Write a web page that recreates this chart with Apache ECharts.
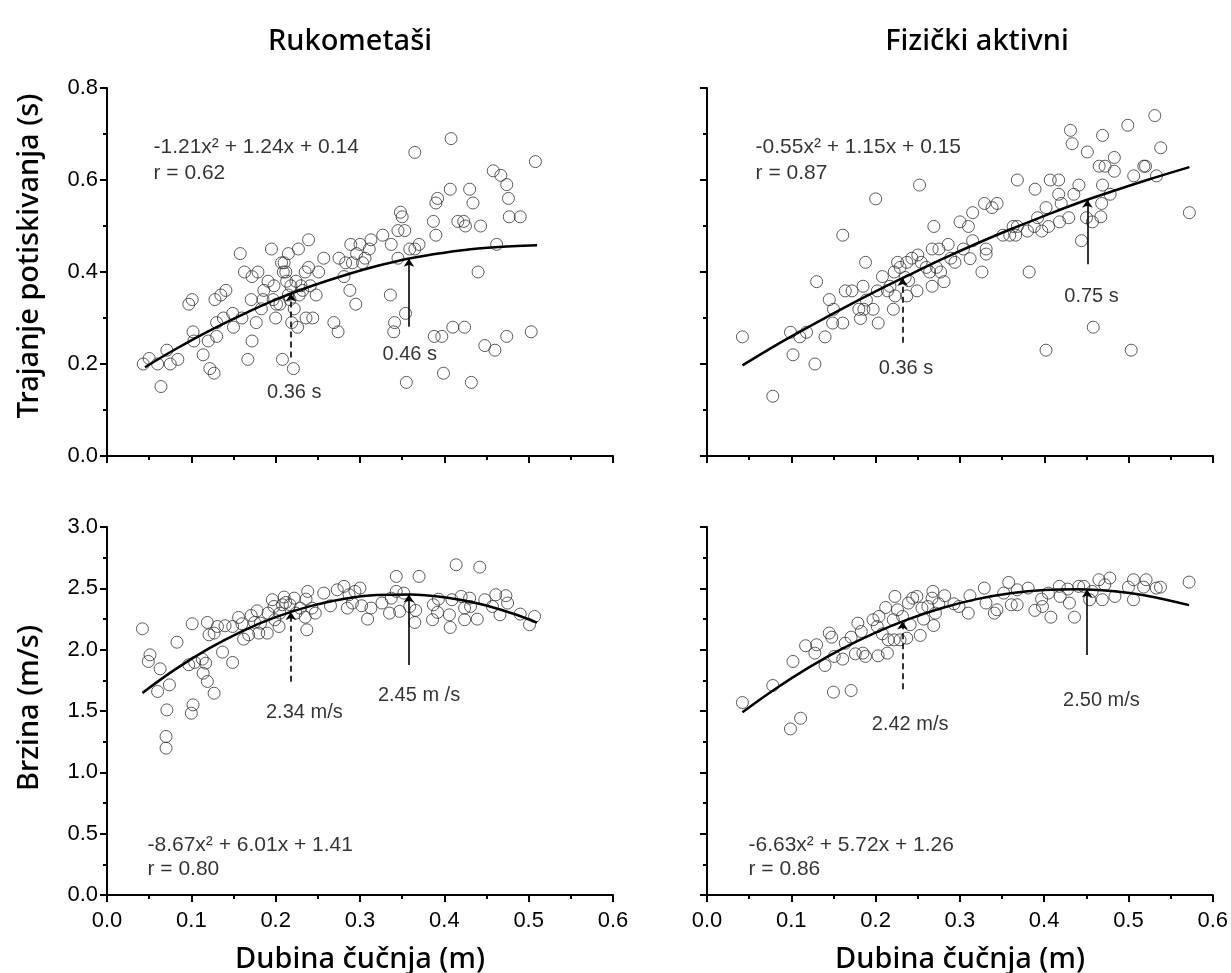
<!DOCTYPE html>
<html>
<head>
<meta charset="utf-8">
<title>Dubina čučnja</title>
<script src="https://cdn.jsdelivr.net/npm/echarts@6/dist/echarts.min.js"></script>
<style>
  html, body { margin: 0; padding: 0; background: #fff; }
  #chart { width: 1231px; height: 973px; }
</style>
</head>
<body>
<div id="chart"></div>
<script>
// ---- tick labels ----
const depthTicks = ['0.0', '0.1', '0.2', '0.3', '0.4', '0.5', '0.6'];
const timeTicks = ['0.0', '0.2', '0.4', '0.6', '0.8'];
const speedTicks = ['0.0', '0.5', '1.0', '1.5', '2.0', '2.5', '3.0'];

// ---- text ----
const groupTitles = ['Rukometaši', 'Fizički aktivni'];
const timeTitle = 'Trajanje potiskivanja (s)';
const speedTitle = 'Brzina (m/s)';
const depthTitle = 'Dubina čučnja (m)';

// ---- Rukometaši: depth (m) vs push-off duration (s) ----
const rukTrajanje = [
  [0.043,0.200],[0.050,0.212],[0.060,0.200],[0.064,0.151],[0.071,0.230],[0.075,0.200],[0.084,0.210],
  [0.097,0.330],[0.101,0.340],[0.102,0.270],[0.103,0.250],[0.114,0.220],[0.120,0.250],[0.122,0.190],
  [0.127,0.180],[0.128,0.340],[0.130,0.290],[0.130,0.260],[0.135,0.350],[0.141,0.360],[0.138,0.300],
  [0.149,0.310],[0.150,0.280],[0.158,0.440],[0.160,0.300],[0.163,0.400],[0.167,0.210],[0.171,0.340],
  [0.172,0.250],[0.172,0.390],[0.177,0.290],[0.179,0.400],[0.183,0.320],[0.186,0.360],[0.185,0.340],
  [0.191,0.380],[0.195,0.450],[0.197,0.340],[0.198,0.370],[0.200,0.300],[0.201,0.330],[0.205,0.330],
  [0.207,0.420],[0.208,0.210],[0.209,0.400],[0.210,0.420],[0.212,0.400],[0.213,0.380],[0.215,0.440],
  [0.215,0.350],[0.217,0.340],[0.218,0.370],[0.219,0.290],[0.221,0.190],[0.222,0.320],[0.224,0.380],
  [0.226,0.280],[0.227,0.450],[0.228,0.350],[0.230,0.370],[0.232,0.360],[0.235,0.400],[0.236,0.300],
  [0.239,0.470],[0.239,0.410],[0.241,0.370],[0.244,0.300],[0.248,0.350],[0.251,0.400],[0.257,0.430],
  [0.269,0.290],[0.274,0.270],[0.275,0.430],[0.281,0.390],[0.283,0.420],[0.288,0.360],[0.289,0.460],
  [0.291,0.420],[0.295,0.330],[0.296,0.440],[0.300,0.460],[0.303,0.420],[0.306,0.430],[0.311,0.450],
  [0.313,0.470],[0.327,0.480],[0.336,0.350],[0.337,0.460],[0.340,0.270],[0.341,0.290],[0.345,0.430],
  [0.345,0.490],[0.348,0.530],[0.350,0.520],[0.353,0.490],[0.354,0.310],[0.355,0.160],[0.359,0.450],
  [0.365,0.660],[0.365,0.450],[0.370,0.460],[0.387,0.510],[0.388,0.260],[0.390,0.550],[0.392,0.560],
  [0.390,0.480],[0.397,0.260],[0.399,0.180],[0.407,0.580],[0.408,0.690],[0.410,0.280],[0.416,0.510],
  [0.423,0.510],[0.425,0.500],[0.424,0.280],[0.430,0.580],[0.432,0.160],[0.434,0.550],[0.440,0.400],
  [0.443,0.500],[0.448,0.240],[0.458,0.620],[0.460,0.230],[0.462,0.460],[0.467,0.610],[0.474,0.590],
  [0.474,0.260],[0.476,0.560],[0.477,0.520],[0.490,0.520],[0.503,0.270],[0.508,0.640]
];
const rukTrajanjeCurve = [
  [0.045,0.193],[0.08,0.231],[0.12,0.271],[0.16,0.307],[0.20,0.340],[0.24,0.368],[0.28,0.392],
  [0.32,0.413],[0.36,0.430],[0.40,0.442],[0.44,0.451],[0.48,0.456],[0.51,0.458]
];
const rukTrajanjeArrows = [[0.218,0.214,0.353],[0.358,0.281,0.429]];
const rukTrajanjeNotes = [[0.222,0.137,'0.36 s'],[0.359,0.220,'0.46 s']];
const rukTrajanjeFit = [[0.0545,0.672,'-1.21x² + 1.24x + 0.14'],[0.0545,0.615,'r = 0.62']];

// ---- Fizički aktivni: depth (m) vs push-off duration (s) ----
const fizTrajanje = [
  [0.042,0.259],[0.078,0.130],[0.099,0.269],[0.102,0.220],[0.110,0.259],[0.118,0.269],[0.128,0.200],
  [0.130,0.379],[0.140,0.259],[0.145,0.340],[0.150,0.319],[0.149,0.289],[0.161,0.289],[0.161,0.480],
  [0.164,0.359],[0.172,0.359],[0.180,0.319],[0.182,0.299],[0.185,0.369],[0.186,0.319],[0.188,0.421],
  [0.189,0.339],[0.197,0.319],[0.200,0.559],[0.202,0.359],[0.203,0.289],[0.208,0.390],[0.214,0.359],
  [0.217,0.369],[0.221,0.319],[0.222,0.400],[0.223,0.348],[0.226,0.421],[0.229,0.410],[0.235,0.388],
  [0.237,0.421],[0.237,0.348],[0.239,0.381],[0.243,0.430],[0.249,0.359],[0.250,0.437],[0.252,0.589],
  [0.254,0.421],[0.260,0.410],[0.264,0.400],[0.267,0.369],[0.267,0.450],[0.269,0.499],[0.272,0.410],
  [0.275,0.450],[0.277,0.400],[0.281,0.379],[0.286,0.460],[0.289,0.430],[0.294,0.421],[0.300,0.509],
  [0.304,0.450],[0.310,0.499],[0.312,0.429],[0.315,0.529],[0.315,0.468],[0.326,0.400],[0.331,0.450],
  [0.331,0.439],[0.329,0.549],[0.338,0.540],[0.344,0.549],[0.351,0.480],[0.359,0.480],[0.363,0.499],
  [0.366,0.480],[0.368,0.600],[0.368,0.499],[0.380,0.489],[0.382,0.400],[0.388,0.499],[0.389,0.580],
  [0.392,0.518],[0.397,0.489],[0.402,0.230],[0.402,0.540],[0.405,0.499],[0.407,0.600],[0.417,0.600],
  [0.417,0.569],[0.418,0.509],[0.420,0.549],[0.429,0.518],[0.431,0.708],[0.433,0.679],[0.435,0.569],
  [0.441,0.589],[0.444,0.468],[0.450,0.518],[0.451,0.661],[0.458,0.280],[0.457,0.509],[0.465,0.630],
  [0.467,0.520],[0.468,0.549],[0.469,0.589],[0.469,0.697],[0.472,0.630],[0.478,0.569],[0.483,0.619],
  [0.483,0.649],[0.499,0.719],[0.503,0.230],[0.506,0.609],[0.518,0.630],[0.520,0.630],[0.531,0.740],
  [0.533,0.609],[0.538,0.670],[0.572,0.529]
];
const fizTrajanjeCurve = [
  [0.042,0.197],[0.08,0.239],[0.12,0.280],[0.16,0.320],[0.20,0.358],[0.24,0.394],[0.28,0.429],
  [0.32,0.462],[0.36,0.493],[0.40,0.522],[0.44,0.550],[0.48,0.575],[0.52,0.599],[0.572,0.628]
];
const fizTrajanjeArrows = [[0.232,0.246,0.387],[0.451,0.417,0.557]];
const fizTrajanjeNotes = [[0.236,0.191,'0.36 s'],[0.456,0.346,'0.75 s']];
const fizTrajanjeFit = [[0.057,0.672,'-0.55x² + 1.15x + 0.15'],[0.057,0.615,'r = 0.87']];

// ---- Rukometaši: depth (m) vs velocity (m/s) ----
const rukBrzina = [
  [0.042,2.170],[0.051,1.958],[0.049,1.904],[0.063,1.844],[0.060,1.659],[0.074,1.713],[0.071,1.509],
  [0.070,1.292],[0.070,1.197],[0.083,2.061],[0.097,1.877],[0.102,1.550],[0.100,1.482],[0.101,2.211],
  [0.104,1.896],[0.113,1.923],[0.114,1.808],[0.117,1.890],[0.119,1.741],[0.119,2.222],[0.121,2.121],
  [0.127,1.645],[0.127,2.135],[0.131,2.189],[0.137,1.980],[0.140,2.195],[0.149,1.896],[0.149,2.189],
  [0.156,2.263],[0.160,2.211],[0.162,2.086],[0.168,2.121],[0.171,2.279],[0.175,2.222],[0.178,2.317],
  [0.180,2.135],[0.182,2.216],[0.190,2.135],[0.191,2.298],[0.196,2.407],[0.198,2.352],[0.199,2.244],
  [0.204,2.189],[0.205,2.298],[0.208,2.366],[0.210,2.429],[0.212,2.385],[0.217,2.366],[0.222,2.420],
  [0.224,2.298],[0.229,2.339],[0.235,2.265],[0.236,2.412],[0.237,2.162],[0.238,2.475],[0.243,2.339],
  [0.247,2.298],[0.257,2.461],[0.265,2.358],[0.273,2.488],[0.281,2.516],[0.285,2.339],[0.287,2.448],
  [0.291,2.380],[0.294,2.475],[0.300,2.502],[0.302,2.358],[0.309,2.249],[0.313,2.339],[0.326,2.380],
  [0.335,2.298],[0.337,2.420],[0.343,2.597],[0.343,2.475],[0.347,2.312],[0.352,2.461],[0.359,2.352],
  [0.365,2.222],[0.366,2.320],[0.370,2.597],[0.386,2.244],[0.387,2.366],[0.392,2.304],[0.393,2.412],
  [0.406,2.284],[0.407,2.181],[0.409,2.407],[0.414,2.692],[0.420,2.434],[0.424,2.339],[0.424,2.244],
  [0.430,2.420],[0.431,2.352],[0.439,2.249],[0.442,2.673],[0.448,2.407],[0.457,2.352],[0.461,2.448],
  [0.466,2.284],[0.473,2.440],[0.475,2.380],[0.490,2.290],[0.501,2.203],[0.507,2.271]
];
const rukBrzinaCurve = [
  [0.042,1.647],[0.08,1.835],[0.12,2.006],[0.16,2.150],[0.20,2.265],[0.24,2.353],[0.28,2.413],
  [0.32,2.445],[0.36,2.450],[0.40,2.427],[0.44,2.376],[0.48,2.297],[0.51,2.220]
];
const rukBrzinaArrows = [[0.218,1.739,2.308],[0.358,1.875,2.450]];
const rukBrzinaNotes = [[0.234,1.486,'2.34 m/s'],[0.370,1.630,'2.45 m /s']];
const rukBrzinaFit = [[0.0474,0.408,'-8.67x² + 6.01x + 1.41'],[0.0474,0.212,'r = 0.80']];

// ---- Fizički aktivni: depth (m) vs velocity (m/s) ----
const fizBrzina = [
  [0.042,1.569],[0.078,1.708],[0.099,1.354],[0.102,1.904],[0.111,1.441],[0.117,2.032],[0.128,1.972],
  [0.130,2.040],[0.140,1.871],[0.145,2.135],[0.148,2.102],[0.150,1.654],[0.151,1.945],[0.161,1.923],
  [0.164,2.053],[0.171,1.667],[0.171,2.102],[0.176,1.966],[0.179,2.216],[0.183,2.148],[0.185,1.972],
  [0.188,1.945],[0.197,2.244],[0.202,2.189],[0.203,1.950],[0.204,2.271],[0.208,2.129],[0.212,2.344],
  [0.215,2.080],[0.214,1.972],[0.221,2.244],[0.223,2.434],[0.222,2.080],[0.226,2.325],[0.229,2.080],
  [0.232,2.271],[0.237,2.094],[0.239,2.380],[0.241,2.203],[0.244,2.420],[0.249,2.434],[0.253,2.116],
  [0.255,2.339],[0.257,2.249],[0.262,2.352],[0.267,2.420],[0.268,2.475],[0.269,2.197],[0.271,2.298],
  [0.275,2.374],[0.282,2.440],[0.293,2.374],[0.299,2.352],[0.310,2.298],[0.312,2.440],[0.329,2.502],
  [0.331,2.380],[0.341,2.298],[0.344,2.325],[0.352,2.461],[0.358,2.548],[0.361,2.366],[0.368,2.366],
  [0.368,2.488],[0.381,2.502],[0.389,2.320],[0.397,2.412],[0.398,2.352],[0.405,2.461],[0.408,2.265],
  [0.418,2.516],[0.419,2.434],[0.428,2.494],[0.430,2.380],[0.436,2.265],[0.441,2.516],[0.447,2.516],
  [0.454,2.407],[0.457,2.475],[0.465,2.570],[0.469,2.407],[0.472,2.529],[0.478,2.584],[0.484,2.434],
  [0.500,2.510],[0.506,2.570],[0.506,2.407],[0.518,2.510],[0.521,2.570],[0.533,2.502],[0.538,2.510],
  [0.572,2.551]
];
const fizBrzinaCurve = [
  [0.042,1.489],[0.08,1.675],[0.12,1.851],[0.16,2.006],[0.20,2.139],[0.24,2.251],[0.28,2.342],
  [0.32,2.412],[0.36,2.460],[0.40,2.487],[0.44,2.493],[0.48,2.478],[0.52,2.442],[0.572,2.363]
];
const fizBrzinaArrows = [[0.232,1.677,2.230],[0.451,1.957,2.491]];
const fizBrzinaNotes = [[0.241,1.386,'2.42 m/s'],[0.468,1.583,'2.50 m/s']];
const fizBrzinaFit = [[0.0486,0.408,'-6.63x² + 5.72x + 1.26'],[0.0486,0.212,'r = 0.86']];

// ---- drawing ----
const TICK_FONT = '"Liberation Sans", Arial, sans-serif';
const TITLE_FONT = '"Noto Sans", sans-serif';

const panels = [
  { grid: { left: 107, top: 88 }, pts: rukTrajanje, curve: rukTrajanjeCurve, arrows: rukTrajanjeArrows,
    notes: rukTrajanjeNotes, fit: rukTrajanjeFit, yTicks: timeTicks, yMax: 0.8, yStep: 0.2,
    showX: false, showY: true },
  { grid: { left: 707, top: 88 }, pts: fizTrajanje, curve: fizTrajanjeCurve, arrows: fizTrajanjeArrows,
    notes: fizTrajanjeNotes, fit: fizTrajanjeFit, yTicks: timeTicks, yMax: 0.8, yStep: 0.2,
    showX: false, showY: false },
  { grid: { left: 107, top: 527 }, pts: rukBrzina, curve: rukBrzinaCurve, arrows: rukBrzinaArrows,
    notes: rukBrzinaNotes, fit: rukBrzinaFit, yTicks: speedTicks, yMax: 3, yStep: 0.5,
    showX: true, showY: true },
  { grid: { left: 707, top: 527 }, pts: fizBrzina, curve: fizBrzinaCurve, arrows: fizBrzinaArrows,
    notes: fizBrzinaNotes, fit: fizBrzinaFit, yTicks: speedTicks, yMax: 3, yStep: 0.5,
    showX: true, showY: false }
];

function tickText(list) {
  return function (v) {
    const hit = list.find(function (t) { return Math.abs(parseFloat(t) - v) < 1e-6; });
    return hit === undefined ? '' : hit;
  };
}

function axisCommon() {
  return {
    axisLine: { show: true, onZero: false, lineStyle: { color: '#000', width: 2 } },
    axisTick: { show: true, inside: false, length: 7, lineStyle: { color: '#000', width: 2 } },
    minorTick: { show: true, splitNumber: 2, length: 4, lineStyle: { color: '#000', width: 2 } },
    splitLine: { show: false },
    minorSplitLine: { show: false }
  };
}

const grids = [], xAxes = [], yAxes = [], series = [];

panels.forEach(function (p, i) {
  grids.push({ left: p.grid.left, top: p.grid.top, width: 506, height: 368 });
  xAxes.push(Object.assign(axisCommon(), {
    type: 'value', gridIndex: i, min: 0, max: 0.6, interval: 0.1,
    axisLabel: { show: p.showX, formatter: tickText(depthTicks), color: '#000',
      fontFamily: TICK_FONT, fontSize: 22, margin: 15 }
  }));
  yAxes.push(Object.assign(axisCommon(), {
    type: 'value', gridIndex: i, min: 0, max: p.yMax, interval: p.yStep,
    axisLabel: { show: p.showY, formatter: tickText(p.yTicks), color: '#000',
      fontFamily: TICK_FONT, fontSize: 22, margin: 9 }
  }));

  // measured points
  series.push({
    type: 'scatter', xAxisIndex: i, yAxisIndex: i, silent: true,
    symbol: 'circle', symbolSize: 12,
    itemStyle: { color: 'rgba(255,255,255,0)', borderColor: '#333', borderWidth: 1 },
    data: p.pts, z: 2
  });

  // quadratic fit with the two marked depths
  series.push({
    type: 'line', xAxisIndex: i, yAxisIndex: i, silent: true,
    data: p.curve, smooth: 0.4, showSymbol: false, symbol: 'none',
    lineStyle: { color: '#000', width: 2.5 }, z: 3,
    markLine: {
      silent: true, symbol: ['none', 'arrow'], symbolSize: 8, precision: 3,
      label: { show: false },
      data: p.arrows.map(function (a, k) {
        return [
          { coord: [a[0], a[1]], lineStyle: { color: '#000', width: 1.6, type: k === 0 ? [6, 4] : 'solid' } },
          { coord: [a[0], a[2]] }
        ];
      })
    }
  });

  // value notes under the arrows
  series.push({
    type: 'scatter', xAxisIndex: i, yAxisIndex: i, silent: true,
    symbolSize: 1, itemStyle: { color: 'rgba(0,0,0,0)' },
    data: p.notes,
    label: { show: true, position: 'inside', formatter: function (d) { return d.data[2]; },
      color: '#000', fontFamily: TICK_FONT, fontSize: 20 },
    z: 4
  });

  // fit equation and correlation
  series.push({
    type: 'scatter', xAxisIndex: i, yAxisIndex: i, silent: true,
    symbolSize: 1, itemStyle: { color: 'rgba(0,0,0,0)' },
    data: p.fit,
    label: { show: true, position: 'right', distance: 0, formatter: function (d) { return d.data[2]; },
      color: '#000', fontFamily: TICK_FONT, fontSize: 21 },
    z: 4
  });
});

function txt(x, y, text, rot) {
  return {
    type: 'text', x: x, y: y, rotation: rot || 0, silent: true,
    style: { text: text, fill: '#000', font: '500 29px ' + TITLE_FONT, align: 'center', verticalAlign: 'middle' }
  };
}

const chart = echarts.init(document.getElementById('chart'), null, { renderer: 'canvas' });
chart.setOption({
  animation: false,
  backgroundColor: '#fff',
  grid: grids,
  xAxis: xAxes,
  yAxis: yAxes,
  series: series,
  graphic: [
    txt(350, 42, groupTitles[0]),
    txt(977, 42, groupTitles[1]),
    txt(30, 256, timeTitle, Math.PI / 2),
    txt(30, 708, speedTitle, Math.PI / 2),
    txt(360, 960, depthTitle),
    txt(960, 960, depthTitle)
  ]
});
</script>
</body>
</html>
